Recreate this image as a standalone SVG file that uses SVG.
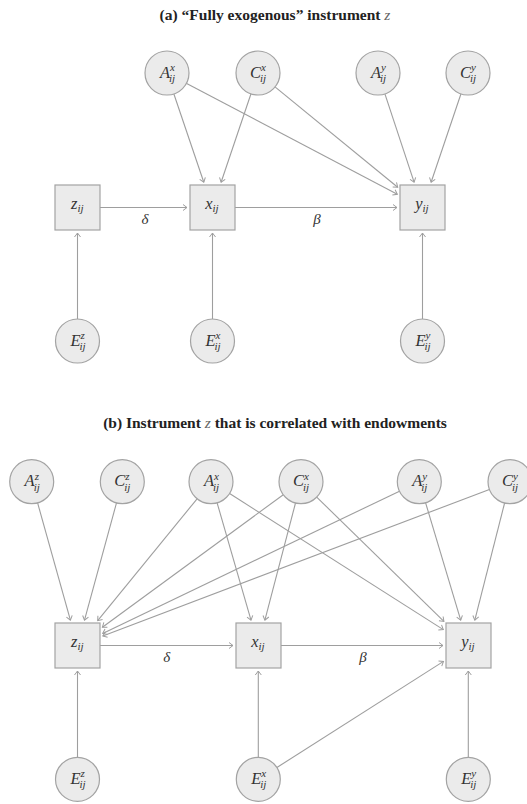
<svg xmlns="http://www.w3.org/2000/svg" width="527" height="804" viewBox="0 0 527 804">
<style>
.bg{fill:#ffffff}
.title{font-family:"Liberation Serif",serif;font-weight:bold;font-size:15.5px;fill:#222;text-anchor:middle}
.title .mz{font-style:italic;font-weight:normal;fill:#666}
circle.c{fill:#ebebeb;stroke:#a3a3a3;stroke-width:1.2}
rect.b{fill:#ebebeb;stroke:#a3a3a3;stroke-width:1.2}
.edges line{stroke:#9e9e9e;stroke-width:1.1;fill:none;marker-end:url(#arr)}
.m{font-family:"Liberation Serif",serif;font-style:italic;font-size:16.5px;fill:#333}
.m .s{font-size:11px}
.lbl{font-family:"Liberation Serif",serif;font-style:italic;font-size:15px;fill:#333;text-anchor:middle}
</style>
<defs>
<marker id="arr" viewBox="-5 -4 6 8" refX="0" refY="0" markerWidth="6" markerHeight="8" markerUnits="userSpaceOnUse" orient="auto">
<path d="M-4,-3 L0,0 L-4,3" fill="none" stroke="#9e9e9e" stroke-width="1"/>
</marker>
</defs>
<rect class="bg" x="0" y="0" width="527" height="804"/>

<text class="title" x="275" y="19.5">(a) “Fully exogenous” instrument <tspan class="mz">z</tspan></text>
<text class="title" x="275" y="428">(b) Instrument <tspan class="mz">z</tspan> that is correlated with endowments</text>

<!-- Panel a connectors -->
<g id="edges-a" class="edges">
<line x1="173.8" y1="93.8" x2="203.8" y2="182.2"/>
<line x1="251" y1="93.8" x2="221.1" y2="182.2"/>
<line x1="186.2" y1="83.2" x2="397.3" y2="194.3"/>
<line x1="275" y1="86.9" x2="397.7" y2="187.2"/>
<line x1="384.9" y1="93.9" x2="414.1" y2="182.2"/>
<line x1="461" y1="93.8" x2="431.1" y2="182.2"/>
<line x1="100" y1="207.5" x2="187" y2="207.5"/>
<line x1="235" y1="207.5" x2="397" y2="207.5"/>
<line x1="77.5" y1="319" x2="77.5" y2="233"/>
<line x1="212.5" y1="319" x2="212.5" y2="233"/>
<line x1="422.5" y1="319" x2="422.5" y2="233"/>
</g>
<text class="lbl" x="145" y="223.5">δ</text>
<text class="lbl" x="317" y="223.5">β</text>

<!-- Panel a nodes -->
<g id="a-Ax"><circle class="c" cx="167" cy="73" r="22"/><text class="m"><tspan x="170" y="77.5" text-anchor="end">A</tspan><tspan class="s" x="170" y="71">x</tspan><tspan class="s" x="169" y="82">ij</tspan></text></g>
<g id="a-Cx"><circle class="c" cx="258" cy="73" r="22"/><text class="m"><tspan x="261" y="77.5" text-anchor="end">C</tspan><tspan class="s" x="261" y="71">x</tspan><tspan class="s" x="260" y="82">ij</tspan></text></g>
<g id="a-Ay"><circle class="c" cx="378" cy="73" r="22"/><text class="m"><tspan x="381" y="77.5" text-anchor="end">A</tspan><tspan class="s" x="381" y="71">y</tspan><tspan class="s" x="380" y="82">ij</tspan></text></g>
<g id="a-Cy"><circle class="c" cx="468" cy="73" r="22"/><text class="m"><tspan x="471" y="77.5" text-anchor="end">C</tspan><tspan class="s" x="471" y="71">y</tspan><tspan class="s" x="470" y="82">ij</tspan></text></g>
<g id="a-z"><rect class="b" x="55" y="185" width="45" height="45"/><text class="m"><tspan x="77.5" y="209" text-anchor="end">z</tspan><tspan class="s" x="77.5" y="212">ij</tspan></text></g>
<g id="a-x"><rect class="b" x="190" y="185" width="45" height="45"/><text class="m"><tspan x="212.5" y="209" text-anchor="end">x</tspan><tspan class="s" x="212.5" y="212">ij</tspan></text></g>
<g id="a-y"><rect class="b" x="400" y="185" width="45" height="45"/><text class="m"><tspan x="422.5" y="209" text-anchor="end">y</tspan><tspan class="s" x="422.5" y="212">ij</tspan></text></g>
<g id="a-Ez"><circle class="c" cx="77.5" cy="341" r="22"/><text class="m"><tspan x="80.5" y="345.5" text-anchor="end">E</tspan><tspan class="s" x="80.5" y="339">z</tspan><tspan class="s" x="79.5" y="350">ij</tspan></text></g>
<g id="a-Ex"><circle class="c" cx="212.5" cy="341" r="22"/><text class="m"><tspan x="215.5" y="345.5" text-anchor="end">E</tspan><tspan class="s" x="215.5" y="339">x</tspan><tspan class="s" x="214.5" y="350">ij</tspan></text></g>
<g id="a-Ey"><circle class="c" cx="422.5" cy="341" r="22"/><text class="m"><tspan x="425.5" y="345.5" text-anchor="end">E</tspan><tspan class="s" x="425.5" y="339">y</tspan><tspan class="s" x="424.5" y="350">ij</tspan></text></g>

<!-- Panel b connectors -->
<g id="edges-b" class="edges">
<line x1="37.6" y1="502.9" x2="70.4" y2="620.1"/>
<line x1="116.5" y1="502.9" x2="84.5" y2="620.1"/>
<line x1="197.1" y1="498.8" x2="97.7" y2="620.7"/>
<line x1="217.1" y1="502.8" x2="251" y2="620.1"/>
<line x1="229.6" y1="493.5" x2="443.3" y2="629.6"/>
<line x1="283.3" y1="494.7" x2="102.4" y2="627.2"/>
<line x1="295.5" y1="503" x2="264.9" y2="620.1"/>
<line x1="316.7" y1="497.1" x2="443.9" y2="621.4"/>
<line x1="399.5" y1="491.2" x2="102.7" y2="633.4"/>
<line x1="425.6" y1="502.8" x2="460.7" y2="620.1"/>
<line x1="489.4" y1="489.5" x2="102.8" y2="635.9"/>
<line x1="504.6" y1="503" x2="474.8" y2="620.1"/>
<line x1="100" y1="645.5" x2="233" y2="645.5"/>
<line x1="281" y1="645.5" x2="443" y2="645.5"/>
<line x1="77.5" y1="757.3" x2="77.5" y2="671"/>
<line x1="258.3" y1="757.3" x2="258.3" y2="671"/>
<line x1="468.3" y1="757.3" x2="468.3" y2="671"/>
<line x1="276.9" y1="767.5" x2="443.5" y2="661.4"/>
</g>
<text class="lbl" x="166.7" y="661.5">δ</text>
<text class="lbl" x="363" y="661.5">β</text>

<!-- Panel b nodes -->
<g id="b-Az"><circle class="c" cx="31.7" cy="481.7" r="22"/><text class="m"><tspan x="34.7" y="486.2" text-anchor="end">A</tspan><tspan class="s" x="34.7" y="479.7">z</tspan><tspan class="s" x="33.7" y="490.7">ij</tspan></text></g>
<g id="b-Cz"><circle class="c" cx="122.3" cy="481.7" r="22"/><text class="m"><tspan x="125.3" y="486.2" text-anchor="end">C</tspan><tspan class="s" x="125.3" y="479.7">z</tspan><tspan class="s" x="124.3" y="490.7">ij</tspan></text></g>
<g id="b-Ax"><circle class="c" cx="211" cy="481.7" r="22"/><text class="m"><tspan x="214" y="486.2" text-anchor="end">A</tspan><tspan class="s" x="214" y="479.7">x</tspan><tspan class="s" x="213" y="490.7">ij</tspan></text></g>
<g id="b-Cx"><circle class="c" cx="301" cy="481.7" r="22"/><text class="m"><tspan x="304" y="486.2" text-anchor="end">C</tspan><tspan class="s" x="304" y="479.7">x</tspan><tspan class="s" x="303" y="490.7">ij</tspan></text></g>
<g id="b-Ay"><circle class="c" cx="419.3" cy="481.7" r="22"/><text class="m"><tspan x="422.3" y="486.2" text-anchor="end">A</tspan><tspan class="s" x="422.3" y="479.7">y</tspan><tspan class="s" x="421.3" y="490.7">ij</tspan></text></g>
<g id="b-Cy"><circle class="c" cx="510" cy="481.7" r="22"/><text class="m"><tspan x="513" y="486.2" text-anchor="end">C</tspan><tspan class="s" x="513" y="479.7">y</tspan><tspan class="s" x="512" y="490.7">ij</tspan></text></g>
<g id="b-z"><rect class="b" x="55" y="623" width="45" height="45"/><text class="m"><tspan x="77.5" y="647" text-anchor="end">z</tspan><tspan class="s" x="77.5" y="650">ij</tspan></text></g>
<g id="b-x"><rect class="b" x="236" y="623" width="45" height="45"/><text class="m"><tspan x="258.5" y="647" text-anchor="end">x</tspan><tspan class="s" x="258.5" y="650">ij</tspan></text></g>
<g id="b-y"><rect class="b" x="446" y="623" width="45" height="45"/><text class="m"><tspan x="468.5" y="647" text-anchor="end">y</tspan><tspan class="s" x="468.5" y="650">ij</tspan></text></g>
<g id="b-Ez"><circle class="c" cx="77.5" cy="779.3" r="22"/><text class="m"><tspan x="80.5" y="783.8" text-anchor="end">E</tspan><tspan class="s" x="80.5" y="777.3">z</tspan><tspan class="s" x="79.5" y="788.3">ij</tspan></text></g>
<g id="b-Ex"><circle class="c" cx="258.3" cy="779.3" r="22"/><text class="m"><tspan x="261.3" y="783.8" text-anchor="end">E</tspan><tspan class="s" x="261.3" y="777.3">x</tspan><tspan class="s" x="260.3" y="788.3">ij</tspan></text></g>
<g id="b-Ey"><circle class="c" cx="468.3" cy="779.3" r="22"/><text class="m"><tspan x="471.3" y="783.8" text-anchor="end">E</tspan><tspan class="s" x="471.3" y="777.3">y</tspan><tspan class="s" x="470.3" y="788.3">ij</tspan></text></g>
</svg>
